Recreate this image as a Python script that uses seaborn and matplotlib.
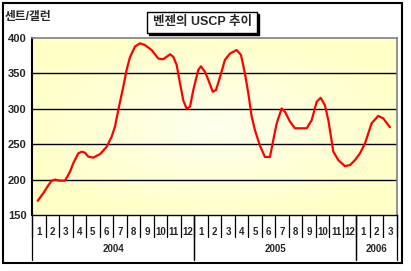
import numpy as np
import pandas as pd
import matplotlib
matplotlib.use("Agg")
import matplotlib.pyplot as plt
import seaborn as sns
from matplotlib.patches import Rectangle

# ---- data (position in months since start of Jan 2004, price in cents/gallon)
month_pos = [0.42, 0.84, 1.21, 1.46, 1.70, 2.07, 2.44, 2.81, 3.05, 3.42, 3.68, 3.92,
             4.16, 4.53, 5.03, 5.53, 5.89, 6.14, 6.38, 6.75, 7.00, 7.25, 7.62, 7.99,
             8.36, 8.85, 9.34, 9.71, 10.21, 10.45, 10.70, 10.95, 11.19, 11.44, 11.69,
             11.93, 12.30, 12.50, 12.80, 13.04, 13.37, 13.61, 13.91, 14.27, 14.64,
             15.14, 15.46, 15.75, 16.00, 16.25, 16.49, 16.86, 17.23, 17.60, 17.85,
             18.10, 18.47, 18.71, 19.08, 19.45, 20.32, 20.69, 21.06, 21.35, 21.67,
             21.92, 22.29, 22.66, 23.15, 23.52, 23.89, 24.26, 24.63, 25.12, 25.61,
             25.98, 26.48]
price = [170, 181, 192, 198.5, 200, 198.5, 198.5, 211, 223, 237, 239.5, 238,
         232.5, 231, 236, 246.5, 260.5, 275, 298, 331, 355, 373, 388, 392.5,
         390, 383, 371, 370, 377, 373.5, 362, 336, 312, 300, 303,
         326.5, 355, 360, 352, 341, 324, 326.5, 345, 369, 378,
         383, 376, 350, 322, 289, 270, 248, 232, 232, 256,
         279.5, 300.5, 296, 282, 272.5, 272.5, 284, 310, 315.5, 305,
         284, 239.5, 227.5, 219, 220.5, 227.5, 237, 251, 279.5, 290,
         286.5, 274]
month_labels = [str(m) for m in range(1, 13)] * 2 + ["1", "2", "3"]
years = ["2004", "2005", "2006"]
year_months = [12, 12, 3]
yticks = [150, 200, 250, 300, 350, 400]
title = "벤젠의 USCP 추이"
ylabel = "센트/갤런"

df = pd.DataFrame({"pos": month_pos, "price": price})

sns.set_theme(style="white")
plt.rcParams["font.family"] = ["Liberation Sans", "Noto Sans CJK KR", "DejaVu Sans"]
plt.rcParams["font.weight"] = "bold"

W, H = 411, 271
fig = plt.figure(figsize=(W / 100, H / 100), dpi=100)
fig.patch.set_facecolor("white")

L, R, T, B = 32, 397, 38, 215
ax = fig.add_axes([L / W, 1 - B / H, (R - L) / W, (B - T) / H])

# gradient background (light yellow edges -> paler centre)
gx, gy = np.meshgrid(np.linspace(-1, 1, 200), np.linspace(-1, 1, 200))
d = np.clip(np.sqrt(gx ** 2 + gy ** 2) / 1.1, 0, 1)
edge = np.array([1.0, 1.0, 0.78])
centre = np.array([1.0, 1.0, 0.93])
img = centre[None, None, :] * (1 - d[..., None]) + edge[None, None, :] * d[..., None]
ax.imshow(img, extent=[0, 1, 0, 1], transform=ax.transAxes, aspect="auto", zorder=0)

n = len(month_labels)
ax.set_xlim(0, n)
ax.set_ylim(150, 400)

for v in [200, 250, 300, 350]:
    ax.axhline(v, color="black", lw=1.0, zorder=1)

sns.lineplot(data=df, x="pos", y="price", ax=ax, color="#ff0000", lw=1.6, zorder=3)

ax.set_xlabel("")
ax.set_ylabel("")
ax.set_yticks(yticks)
ax.set_yticklabels([str(v) for v in yticks], fontsize=8, fontweight="bold")
ax.tick_params(axis="y", length=0, pad=4)
ax.set_xticks([])

for s in ["top", "right"]:
    ax.spines[s].set_color("#808080")
    ax.spines[s].set_linewidth(1.2)
ax.spines["left"].set_color("black")
ax.spines["left"].set_linewidth(1.5)
ax.spines["bottom"].set_color("black")
ax.spines["bottom"].set_linewidth(1.0)

xt = ax.get_xaxis_transform()
month_bottom = (B - 237) / (B - T)
year_bottom = (B - 260) / (B - T)
for i in range(n + 1):
    ax.plot([i, i], [0, month_bottom], color="black", lw=0.9, transform=xt, clip_on=False)
for i, lab in enumerate(month_labels):
    ax.text(i + 0.5, (B - 232) / (B - T), lab, transform=xt, ha="center", va="center",
            fontsize=7, fontweight="bold")

start = 0
for yr, cnt in zip(years, year_months):
    for xv in (start, start + cnt):
        ax.plot([xv, xv], [0, year_bottom], color="black", lw=0.9, transform=xt, clip_on=False)
    ax.text(start + cnt / 2, (B - 249) / (B - T), yr, transform=xt, ha="center", va="center",
            fontsize=7, fontweight="bold")
    start += cnt

# y-axis unit label
fig.text(5 / W, 1 - 17 / H, ylabel, ha="left", va="center", fontsize=8.5, fontweight="bold")

# title box with thin shadow
bx0, bx1, by0, by1 = 147, 257, 12, 33
fig.patches.append(Rectangle((bx0 / W + 1.5 / W, 1 - by1 / H - 1.5 / H), (bx1 - bx0) / W, (by1 - by0) / H,
                             transform=fig.transFigure, facecolor="black", edgecolor="black", zorder=1))
fig.patches.append(Rectangle((bx0 / W, 1 - by1 / H), (bx1 - bx0) / W, (by1 - by0) / H,
                             transform=fig.transFigure, facecolor="white", edgecolor="black", lw=1.0, zorder=2))
fig.text((bx0 + bx1) / 2 / W, 1 - 22.5 / H, title, ha="center", va="center", fontsize=9,
         fontweight="bold", zorder=3)

# outer frame
fig.patches.append(Rectangle((3 / W, 1 - 263 / H), 399 / W, 260 / H, transform=fig.transFigure,
                             facecolor="none", edgecolor="black", lw=1.5, zorder=5))

fig.savefig("out.png", dpi=100)
